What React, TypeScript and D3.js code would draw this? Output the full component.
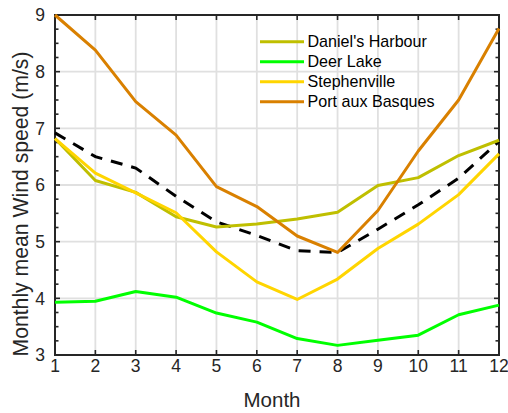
import React from "react";
import * as d3 from "d3";

const months = [1, 2, 3, 4, 5, 6, 7, 8, 9, 10, 11, 12];
const danielsHarbour = [6.82, 6.08, 5.87, 5.44, 5.26, 5.31, 5.40, 5.52, 5.99, 6.13, 6.52, 6.79];
const deerLake = [3.93, 3.95, 4.12, 4.02, 3.74, 3.58, 3.29, 3.17, 3.26, 3.35, 3.71, 3.88];
const stephenville = [6.82, 6.21, 5.86, 5.51, 4.82, 4.29, 3.98, 4.34, 4.88, 5.31, 5.83, 6.55];
const portAuxBasques = [9.0, 8.38, 7.47, 6.88, 5.97, 5.62, 5.10, 4.81, 5.55, 6.60, 7.50, 8.76];
const meanSeries = [6.92, 6.50, 6.30, 5.80, 5.35, 5.11, 4.84, 4.81, 5.22, 5.65, 6.12, 6.77];
const yTicks = [3, 4, 5, 6, 7, 8, 9];
const seriesNames = ["Daniel's Harbour", "Deer Lake", "Stephenville", "Port aux Basques"];
const seriesColors = ["#BFBF00", "#00FF00", "#FFD500", "#D98000"];

const FONT = "'Liberation Sans', Arial, Helvetica, sans-serif";

export default function App() {
  const W = 508, H = 413;
  const left = 55, right = 499, top = 15, bottom = 355;
  const x = d3.scaleLinear().domain([1, 12]).range([left, right]);
  const y = d3.scaleLinear().domain([3, 9]).range([bottom, top]);
  const line = d3.line<number>().x((_, i) => x(months[i])).y((d) => y(d));
  const allSeries = [danielsHarbour, deerLake, stephenville, portAuxBasques];
  const minorTicks = d3.range(3, 9.001, 0.25);
  const axisColor = "#262626";
  const gridColor = "#E0E0E0";

  return (
    <svg width={W} height={H} style={{ position: "absolute", left: 0, top: 0, background: "#fff" }} fontFamily={FONT}>
      {/* grid */}
      {months.map((m) => (
        <line key={"gx" + m} x1={x(m)} x2={x(m)} y1={top} y2={bottom} stroke={gridColor} strokeWidth={1.8} />
      ))}
      {yTicks.map((t) => (
        <line key={"gy" + t} x1={left} x2={right} y1={y(t)} y2={y(t)} stroke={gridColor} strokeWidth={1.8} />
      ))}
      {/* ticks */}
      {months.map((m) => (
        <g key={"tx" + m}>
          <line x1={x(m)} x2={x(m)} y1={bottom} y2={bottom - 5} stroke={axisColor} strokeWidth={1.6} />
          <line x1={x(m)} x2={x(m)} y1={top} y2={top + 5} stroke={axisColor} strokeWidth={1.6} />
        </g>
      ))}
      {minorTicks.map((t) => {
        const major = Math.abs(t - Math.round(t)) < 1e-6;
        const len = major ? 5 : 3.5;
        return (
          <g key={"ty" + t}>
            <line x1={left} x2={left + len} y1={y(t)} y2={y(t)} stroke={axisColor} strokeWidth={1.6} />
            <line x1={right} x2={right - len} y1={y(t)} y2={y(t)} stroke={axisColor} strokeWidth={1.6} />
          </g>
        );
      })}
      {/* box */}
      <rect x={left} y={top} width={right - left} height={bottom - top} fill="none" stroke={axisColor} strokeWidth={2} />
      {/* tick labels */}
      {months.map((m) => (
        <text key={"lx" + m} x={x(m)} y={372} textAnchor="middle" fontSize={17.5} fill={axisColor}>{m}</text>
      ))}
      {yTicks.map((t) => (
        <text key={"ly" + t} x={45} y={y(t) + 6.2} textAnchor="end" fontSize={17.5} fill={axisColor}>{t}</text>
      ))}
      {/* axis labels */}
      <text x={272} y={406.5} textAnchor="middle" fontSize={20.5} fill={axisColor}>Month</text>
      <text transform={`translate(27.5,204) rotate(-90)`} textAnchor="middle" fontSize={21.2} fill={axisColor}>
        Monthly mean Wind speed (m/s)
      </text>
      {/* data */}
      <path d={line(meanSeries) || ""} fill="none" stroke="#000" strokeWidth={3} strokeDasharray="12,9" />
      {allSeries.map((s, i) => (
        <path key={"s" + i} d={line(s) || ""} fill="none" stroke={seriesColors[i]} strokeWidth={3} strokeLinejoin="round" />
      ))}
      {/* legend */}
      {seriesNames.map((n, i) => {
        const ry = 41.7 + i * 20;
        return (
          <g key={"lg" + i}>
            <line x1={260} x2={304} y1={ry} y2={ry} stroke={seriesColors[i]} strokeWidth={3} />
            <text x={307.5} y={ry + 5.6} fontSize={16.1} fill="#000">{n}</text>
          </g>
        );
      })}
    </svg>
  );
}
